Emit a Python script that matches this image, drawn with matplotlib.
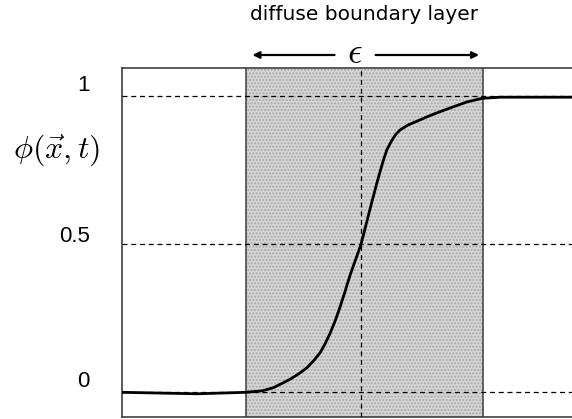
import numpy as np
import matplotlib
matplotlib.use('Agg')
import matplotlib.pyplot as plt
from matplotlib import transforms

# position along x, in units of ~half the layer width, 0 = layer centre line
x_pts = [-2.017, -1.384, -0.970, -0.835, -0.743, -0.667, -0.599, -0.523,
         -0.456, -0.397, -0.346, -0.304, -0.262, -0.219, -0.177, -0.135,
         -0.093, -0.042, 0.000, 0.042, 0.093, 0.143, 0.186, 0.219, 0.262,
         0.295, 0.329, 0.397, 0.473, 0.565, 0.667, 0.776, 0.895, 1.021,
         1.173, 1.781]
# order parameter phi
phi_pts = [0.000, -0.005, 0.000, 0.005, 0.015, 0.030, 0.044, 0.063,
           0.083, 0.108, 0.133, 0.163, 0.198, 0.240, 0.288, 0.340,
           0.395, 0.452, 0.500, 0.565, 0.645, 0.720, 0.780, 0.820, 0.852,
           0.872, 0.886, 0.903, 0.916, 0.932, 0.948, 0.964, 0.981, 0.993,
           0.997, 0.997]

layer_left = -0.97
layer_right = 1.03
guide_levels = [0.0, 0.5, 1.0]
tick_labels = ['0', '0.5', '1']
tick_label_pos = [0.035, 0.525, 1.038]

W, H = 572, 419
fig = plt.figure(figsize=(W / 100, H / 100), dpi=100)
ax = fig.add_axes([122 / W, 2 / H, (W - 122) / W, 349 / H])

ax.set_xlim(-2.017, 1.781)
ax.set_ylim(-0.0834, 1.0956)

# shaded diffuse layer
ax.axvspan(layer_left, layer_right, facecolor='#d6d6d6', edgecolor='#a8a8a8',
           hatch='.....', linewidth=0, zorder=1)
for xv in (layer_left, layer_right):
    ax.axvline(xv, color='#4a4a4a', lw=1.2, zorder=2)

# dashed guides
for lv in guide_levels:
    ax.axhline(lv, color='black', lw=0.9, ls=(0, (4, 3)), zorder=3)
ax.axvline(0.0, color='black', lw=0.9, ls=(0, (4, 3)), zorder=3)

ax.plot(x_pts, phi_pts, color='black', lw=2.0, zorder=4,
        solid_capstyle='round', solid_joinstyle='round')

for s in ('left', 'top', 'bottom'):
    ax.spines[s].set_color('#404040')
    ax.spines[s].set_linewidth(1.2)
ax.spines['right'].set_visible(False)
ax.set_xticks([])
ax.set_yticks([])

# tick labels written by hand, to the left of the box
trans = transforms.blended_transform_factory(fig.transFigure, ax.transData)
for lab, yp in zip(tick_labels, tick_label_pos):
    fig.text(90 / W, yp, lab, transform=trans, ha='right', va='center',
             fontsize=16, family='Liberation Sans')

plt.rcParams['mathtext.fontset'] = 'cm'
fig.text(57 / W, 1 - 150 / H, r'$\phi(\vec{x},t)$', ha='center', va='center', fontsize=23)

# header and epsilon arrows
fig.text(364 / W, 1 - 15 / H, 'diffuse boundary layer', ha='center', va='center',
         fontsize=14.5, family='DejaVu Sans')
fig.text(355 / W, 1 - 53 / H, r'$\epsilon$', ha='center', va='center', fontsize=26)
arr_y = 1 - 55 / H
ax.annotate('', xy=(layer_left + 0.03, arr_y), xytext=(-0.20, arr_y),
            xycoords=('data', 'figure fraction'), textcoords=('data', 'figure fraction'),
            arrowprops=dict(arrowstyle='-|>', color='black', lw=1.6, mutation_scale=10),
            annotation_clip=False)
ax.annotate('', xy=(layer_right - 0.01, arr_y), xytext=(0.10, arr_y),
            xycoords=('data', 'figure fraction'), textcoords=('data', 'figure fraction'),
            arrowprops=dict(arrowstyle='-|>', color='black', lw=1.6, mutation_scale=10),
            annotation_clip=False)

fig.savefig('out.png', dpi=100)
